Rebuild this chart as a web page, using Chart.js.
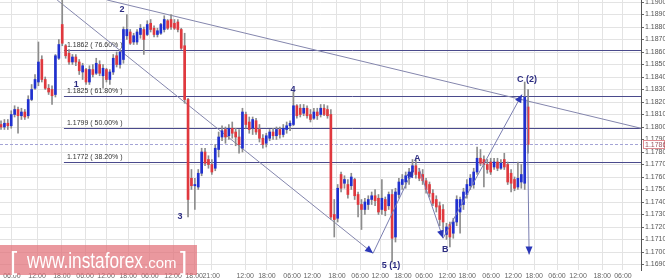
<!DOCTYPE html>
<html>
<head>
<meta charset="utf-8">
<script src="https://cdn.jsdelivr.net/npm/chart.js@4.4.0/dist/chart.umd.min.js"></script>
<style>
html,body{margin:0;padding:0;background:#fff;}
#wrap{width:665px;height:279px;position:relative;}
</style>
</head>
<body>
<div id="wrap"><canvas id="chart" width="665" height="279"></canvas></div>
<script>
// EUR/USD hourly candles
const open = [
1.1802,1.1800,1.1803,1.1801,1.1810,1.1814,1.1809,1.1812,1.1809,1.1822,
1.1831,1.1836,1.1854,1.1838,1.1831,1.1830,1.1826,1.1855,1.1882,1.1865,
1.1859,1.1852,1.1856,1.1852,1.1844,1.1846,1.1836,1.1846,1.1843,1.1850,
1.1841,1.1846,1.1838,1.1844,1.1857,1.1850,1.1854,1.1873,1.1876,1.1868,
1.1868,1.1874,1.1878,1.1874,1.1883,1.1879,1.1874,1.1875,1.1878,1.1885,
1.1886,1.1883,1.1884,1.1878,1.1865,1.1822,1.1759,1.1753,1.1752,1.1763,
1.1780,1.1774,1.1770,1.1767,1.1782,1.1792,1.1798,1.1793,1.1799,1.1796,
1.1792,1.1783,1.1810,1.1804,1.1799,1.1805,1.1798,1.1791,1.1787,1.1791,
1.1796,1.1793,1.1798,1.1794,1.1798,1.1801,1.1802,1.1817,1.1815,1.1811,
1.1815,1.1810,1.1807,1.1812,1.1810,1.1815,1.1814,1.1810,1.1730,1.1727,
1.1762,1.1755,1.1754,1.1753,1.1758,1.1746,1.1738,1.1734,1.1738,1.1742,
1.1745,1.1743,1.1734,1.1742,1.1737,1.1746,1.1712,1.1746,1.1754,1.1756,
1.1759,1.1764,1.1769,1.1764,1.1762,1.1757,1.1754,1.1747,1.1742,1.1737,
1.1734,1.1714,1.1722,1.1715,1.1724,1.1732,1.1738,1.1746,1.1753,1.1754,
1.1764,1.1775,1.1774,1.1770,1.1772,1.1768,1.1772,1.1767,1.1774,1.1770,
1.1763,1.1758,1.1752,1.1756,1.1755,1.1816];
const high = [
1.1805,1.1806,1.1806,1.1813,1.1817,1.1816,1.1815,1.1814,1.1825,1.1834,
1.1842,1.1868,1.1857,1.1840,1.1834,1.1833,1.1858,1.1870,1.1904,1.1866,
1.1862,1.1858,1.1858,1.1854,1.1851,1.1847,1.1849,1.1850,1.1855,1.1853,
1.1850,1.1847,1.1846,1.1858,1.1860,1.1862,1.1880,1.1890,1.1878,1.1875,
1.1878,1.1882,1.1880,1.1885,1.1886,1.1881,1.1879,1.1883,1.1889,1.1886,
1.1890,1.1886,1.1886,1.1879,1.1875,1.1823,1.1766,1.1759,1.1766,1.1783,
1.1783,1.1777,1.1774,1.1786,1.1796,1.1801,1.1800,1.1802,1.1804,1.1799,
1.1798,1.1815,1.1812,1.1808,1.1808,1.1807,1.1802,1.1794,1.1795,1.1798,
1.1799,1.1800,1.1800,1.1802,1.1804,1.1805,1.1828,1.1818,1.1818,1.1818,
1.1817,1.1814,1.1815,1.1815,1.1818,1.1818,1.1817,1.1814,1.1742,1.1754,
1.1764,1.1761,1.1758,1.1763,1.1759,1.1748,1.1742,1.1743,1.1745,1.1748,
1.1750,1.1746,1.1758,1.1744,1.1748,1.1750,1.1751,1.1759,1.1762,1.1764,
1.1767,1.1774,1.1774,1.1767,1.1766,1.1759,1.1756,1.1750,1.1745,1.1740,
1.1738,1.1723,1.1724,1.1727,1.1745,1.1744,1.1751,1.1758,1.1762,1.1767,
1.1784,1.1782,1.1777,1.1774,1.1775,1.1775,1.1775,1.1774,1.1779,1.1772,
1.1766,1.1760,1.1772,1.1770,1.1836,1.1830];
const low = [
1.1798,1.1798,1.1798,1.1799,1.1808,1.1795,1.1806,1.1806,1.1807,1.1821,
1.1830,1.1833,1.1836,1.1830,1.1826,1.1818,1.1824,1.1854,1.1865,1.1855,
1.1850,1.1850,1.1849,1.1842,1.1838,1.1834,1.1834,1.1840,1.1842,1.1841,
1.1831,1.1836,1.1834,1.1842,1.1848,1.1847,1.1851,1.1870,1.1866,1.1866,
1.1866,1.1871,1.1858,1.1873,1.1876,1.1872,1.1872,1.1874,1.1876,1.1878,
1.1878,1.1878,1.1876,1.1862,1.1819,1.1728,1.1750,1.1734,1.1750,1.1761,
1.1769,1.1767,1.1762,1.1765,1.1776,1.1789,1.1787,1.1790,1.1791,1.1785,
1.1779,1.1780,1.1799,1.1795,1.1794,1.1794,1.1788,1.1783,1.1784,1.1789,
1.1790,1.1790,1.1791,1.1792,1.1795,1.1797,1.1801,1.1807,1.1808,1.1809,
1.1807,1.1804,1.1806,1.1806,1.1808,1.1809,1.1807,1.1726,1.1712,1.1724,
1.1748,1.1751,1.1743,1.1750,1.1742,1.1728,1.1718,1.1730,1.1734,1.1738,
1.1737,1.1730,1.1730,1.1729,1.1734,1.1692,1.1708,1.1743,1.1750,1.1751,
1.1754,1.1761,1.1759,1.1757,1.1754,1.1747,1.1744,1.1737,1.1732,1.1721,
1.1718,1.1710,1.1704,1.1711,1.1721,1.1715,1.1734,1.1743,1.1750,1.1751,
1.1762,1.1769,1.1752,1.1763,1.1762,1.1766,1.1765,1.1766,1.1766,1.1754,
1.1748,1.1749,1.1750,1.1751,1.1750,1.1779];
const close = [
1.1800,1.1803,1.1801,1.1810,1.1814,1.1809,1.1812,1.1808,1.1822,1.1830,
1.1838,1.1852,1.1838,1.1831,1.1828,1.1825,1.1857,1.1866,1.1867,1.1857,
1.1852,1.1856,1.1852,1.1845,1.1849,1.1836,1.1846,1.1842,1.1851,1.1843,
1.1847,1.1838,1.1844,1.1855,1.1850,1.1860,1.1878,1.1878,1.1867,1.1873,
1.1876,1.1879,1.1870,1.1882,1.1878,1.1874,1.1877,1.1882,1.1886,1.1879,
1.1880,1.1879,1.1878,1.1863,1.1822,1.1742,1.1753,1.1754,1.1763,1.1780,
1.1771,1.1770,1.1764,1.1783,1.1792,1.1797,1.1792,1.1799,1.1795,1.1792,
1.1786,1.1812,1.1802,1.1798,1.1806,1.1796,1.1791,1.1786,1.1793,1.1796,
1.1793,1.1798,1.1794,1.1799,1.1801,1.1803,1.1817,1.1809,1.1810,1.1815,
1.1809,1.1806,1.1812,1.1809,1.1815,1.1810,1.1809,1.1728,1.1726,1.1751,
1.1751,1.1758,1.1746,1.1760,1.1745,1.1738,1.1734,1.1740,1.1742,1.1745,
1.1741,1.1732,1.1743,1.1733,1.1746,1.1711,1.1748,1.1756,1.1758,1.1761,
1.1764,1.1769,1.1762,1.1759,1.1757,1.1750,1.1747,1.1739,1.1736,1.1726,
1.1724,1.1720,1.1712,1.1724,1.1742,1.1742,1.1748,1.1754,1.1759,1.1764,
1.1775,1.1771,1.1770,1.1766,1.1764,1.1772,1.1767,1.1771,1.1768,1.1756,
1.1755,1.1751,1.1759,1.1762,1.1824,1.1786];

// time axis labels (candle index where each one sits)
const tickAt = [3.2,10.6,17.9,24.7,30.9,37.4,43.8,50.6,56.8,61.8,71.8,78.2,85.6,91.5,
  98.8,105.6,111.5,118.2,124.4,131.2,137.1,144.1,150.6,156.8,163.5,169.7,176.8,182.9];
const tickText = ["06:00","12:00","18:00","06:00","12:00","18:00","06:00","12:00","18:00","21:00",
  "12:00","18:00","06:00","12:00","18:00","06:00","12:00","18:00","06:00","12:00",
  "18:00","06:00","12:00","18:00","06:00","12:00","18:00","06:00"];

// fibonacci retracement
const fibLevels = [1.1862, 1.1825, 1.1799, 1.1772];
const fibNames = ["76.60%", "61.80%", "50.00%", "38.20%"];
const fibStart = 18.5;
const lastPrice = 1.1786;

// trend lines and wave arrows: [index, price] pairs
const trendUpper = [[31.2, 1.19016], [188.2, 1.1799]];
const trendLower = [[16.5, 1.19016], [109.4, 1.1699]];
const waveArrows = [
  [[109.4, 1.1699], [121.2, 1.1766]],
  [[122.9, 1.1767], [130.0, 1.1711]],
  [[130.0, 1.1711], [153.2, 1.1826]],
  [[154.7, 1.1822], [155.3, 1.1698]]
];
const waveLabels = [
  ["1", 22.1, 1.1834], ["2", 35.6, 1.1894], ["3", 52.6, 1.1728], ["4", 85.9, 1.1830],
  ["5 (1)", 114.7, 1.1689], ["A", 122.4, 1.1775], ["B", 130.6, 1.1702], ["C (2)", 154.7, 1.1838]
];

const UP = '#2030d0', DOWN = '#e0383e';

function arrowHead(ctx, x0, y0, x1, y1) {
  const a = Math.atan2(y1 - y0, x1 - x0), len = 8, w = 3.5;
  const bx = x1 - len * Math.cos(a), by = y1 - len * Math.sin(a);
  ctx.beginPath();
  ctx.moveTo(x1, y1);
  ctx.lineTo(bx + w * Math.sin(a), by - w * Math.cos(a));
  ctx.lineTo(bx - w * Math.sin(a), by + w * Math.cos(a));
  ctx.closePath();
  ctx.fill();
}

const annot = {
  id: 'annot',
  beforeDatasetsDraw(chart) {
    const {ctx, chartArea: a, scales: {x, y}} = chart;
    ctx.save();
    ctx.beginPath(); ctx.rect(a.left, a.top, a.width, a.height); ctx.clip();
    ctx.lineWidth = 1;
    // fib levels
    ctx.strokeStyle = '#4a4a8c';
    ctx.fillStyle = '#333';
    ctx.font = '7px "Liberation Sans", Arial';
    fibLevels.forEach((v, i) => {
      const py = Math.round(y.getPixelForValue(v)) + 0.5;
      const px = x.getPixelForValue(fibStart);
      ctx.beginPath(); ctx.moveTo(px, py); ctx.lineTo(a.right, py); ctx.stroke();
      ctx.fillText(v.toFixed(4) + ' ( ' + fibNames[i] + ' )', px + 3, py - 4);
    });
    // last price dashed
    ctx.strokeStyle = '#a4a4d6';
    ctx.setLineDash([3, 2]);
    const lp = Math.round(y.getPixelForValue(lastPrice)) + 0.5;
    ctx.beginPath(); ctx.moveTo(a.left, lp); ctx.lineTo(a.right, lp); ctx.stroke();
    ctx.setLineDash([]);
    // trend lines
    ctx.strokeStyle = '#8486ad';
    [trendUpper, trendLower].forEach(t => {
      ctx.beginPath();
      ctx.moveTo(x.getPixelForValue(t[0][0]), y.getPixelForValue(t[0][1]));
      ctx.lineTo(x.getPixelForValue(t[1][0]), y.getPixelForValue(t[1][1]));
      ctx.stroke();
    });
    ctx.restore();
  },
  afterDraw(chart) {
    const {ctx, chartArea: a, scales: {x, y}} = chart;
    ctx.save();
    // wave arrows
    ctx.lineWidth = 1;
    ctx.strokeStyle = '#7a7eb0';
    ctx.fillStyle = '#2a36b8';
    const lt = trendLower;
    arrowHead(ctx, x.getPixelForValue(lt[0][0]), y.getPixelForValue(lt[0][1]),
      x.getPixelForValue(lt[1][0]), y.getPixelForValue(lt[1][1]));
    waveArrows.forEach(w => {
      const x0 = x.getPixelForValue(w[0][0]), y0 = y.getPixelForValue(w[0][1]);
      const x1 = x.getPixelForValue(w[1][0]), y1 = y.getPixelForValue(w[1][1]);
      ctx.beginPath(); ctx.moveTo(x0, y0); ctx.lineTo(x1, y1); ctx.stroke();
      arrowHead(ctx, x0, y0, x1, y1);
    });
    // wave labels
    ctx.fillStyle = '#2d2d82';
    ctx.font = 'bold 9px "Liberation Sans", Arial';
    ctx.textAlign = 'center';
    ctx.textBaseline = 'middle';
    waveLabels.forEach(l => ctx.fillText(l[0], x.getPixelForValue(l[1]), y.getPixelForValue(l[2])));
    // last price tag
    const lp = Math.round(y.getPixelForValue(lastPrice));
    ctx.fillStyle = '#fff';
    ctx.fillRect(a.right + 2, lp - 4, 22, 9);
    ctx.strokeStyle = '#e08a90';
    ctx.strokeRect(a.right + 2.5, lp - 3.5, 21, 8);
    ctx.fillStyle = '#9a5560';
    ctx.font = '7px "Liberation Sans", Arial';
    ctx.textAlign = 'left';
    ctx.fillText(lastPrice.toFixed(4), a.right + 4, lp + 1);
    // watermark
    ctx.fillStyle = 'rgba(226,112,120,0.72)';
    ctx.fillRect(0, 245, 197, 30);
    ctx.fillStyle = '#fff';
    ctx.textBaseline = 'alphabetic';
    ctx.font = '26px "Liberation Sans", Arial';
    ctx.fillText('[', 10, 270);
    ctx.fillText(']', 180, 270);
    ctx.font = '22px "Liberation Sans", Arial';
    const w1 = ctx.measureText('www.instaforex').width;
    ctx.save();
    ctx.translate(27, 268);
    ctx.scale(116 / w1, 1);
    ctx.fillText('www.instaforex', 0, 0);
    ctx.restore();
    ctx.font = '15px "Liberation Sans", Arial';
    ctx.fillText('.com', 144, 268);
    ctx.restore();
  }
};

new Chart(document.getElementById('chart'), {
  type: 'bar',
  data: {
    datasets: [{
      data: open.map((o, i) => ({x: i, y: [o, close[i]]})),
      backgroundColor: open.map((o, i) => close[i] >= o ? UP : DOWN),
      barThickness: 2,
      minBarLength: 1,
      grouped: false,
      order: 0
    }, {
      data: open.map((o, i) => ({x: i, y: [low[i], high[i]]})),
      backgroundColor: '#8c8c8c',
      barThickness: 1,
      grouped: false,
      order: 1
    }]
  },
  options: {
    responsive: false,
    animation: false,
    layout: {padding: 0},
    plugins: {legend: {display: false}, tooltip: {enabled: false}},
    scales: {
      x: {
        type: 'linear',
        min: -0.3,
        max: 188.2,
        offset: false,
        grid: {color: '#e3e3e3', offset: false, drawTicks: false},
        border: {display: false},
        afterBuildTicks: s => { s.ticks = tickAt.map(v => ({value: v})); },
        afterFit: s => { s.height = 9; s.paddingLeft = 0; s.paddingRight = 0; },
        ticks: {
          autoSkip: false,
          maxRotation: 0,
          padding: 2,
          color: '#666',
          font: {size: 7, family: '"Liberation Sans", Arial'},
          callback: (v, i) => tickText[i]
        }
      },
      y: {
        type: 'linear',
        position: 'right',
        min: 1.16856,
        max: 1.19016,
        beginAtZero: false,
        grid: {color: '#e3e3e3', tickLength: 3, tickColor: '#666'},
        border: {color: '#555'},
        afterFit: s => { s.width = 24; s.paddingTop = 0; s.paddingBottom = 0; },
        ticks: {
          stepSize: 0.001,
          includeBounds: false,
          padding: 1,
          color: '#555',
          font: {size: 7, family: '"Liberation Sans", Arial'},
          callback: v => v.toFixed(4)
        }
      }
    }
  },
  plugins: [annot]
});
</script>
</body>
</html>
